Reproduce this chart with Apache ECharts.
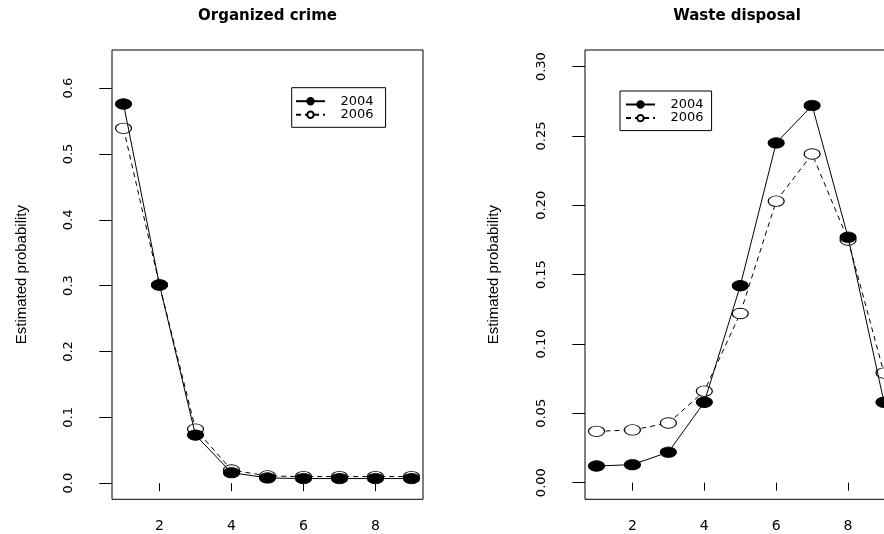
<!DOCTYPE html>
<html>
<head>
<meta charset="utf-8">
<script src="https://cdn.jsdelivr.net/npm/echarts@6/dist/echarts.min.js"></script>
<style>
html,body{margin:0;padding:0;background:#fff;}
#chart{width:884px;height:534px;}
</style>
</head>
<body>
<div id="chart"></div>
<script>
// ---- data ----
var positions = [1, 2, 3, 4, 5, 6, 7, 8, 9];
var years = ['2004', '2006'];
var panelTitles = ['Organized crime', 'Waste disposal'];
var crime2004 = [0.576, 0.301, 0.073, 0.016, 0.008, 0.007, 0.007, 0.007, 0.007];
var crime2006 = [0.539, 0.301, 0.082, 0.020, 0.011, 0.010, 0.010, 0.010, 0.010];
var waste2004 = [0.012, 0.013, 0.022, 0.058, 0.142, 0.245, 0.272, 0.177, 0.058];
var waste2006 = [0.037, 0.038, 0.043, 0.066, 0.122, 0.203, 0.237, 0.175, 0.079];
var xTicks = [2, 4, 6, 8];
var yTicksLeft = [0, 0.1, 0.2, 0.3, 0.4, 0.5, 0.6];
var yLabelsLeft = ['0.0', '0.1', '0.2', '0.3', '0.4', '0.5', '0.6'];
var yTicksRight = [0, 0.05, 0.10, 0.15, 0.20, 0.25, 0.30];
var yLabelsRight = ['0.00', '0.05', '0.10', '0.15', '0.20', '0.25', '0.30'];
var yName = 'Estimated probability';

function pairs(vals) { return positions.map(function (p, i) { return [p, vals[i]]; }); }
function labelFrom(ticks, labels) {
  return function (v) {
    for (var i = 0; i < ticks.length; i++) if (Math.abs(ticks[i] - v) < 1e-9) return labels[i];
    return '';
  };
}

var ellipse = 'path://M0,5A5,5,0,1,1,10,5A5,5,0,1,1,0,5Z';
var tickFont = 'DejaVu Sans';

function xAxis(gi) {
  return {
    type: 'value', gridIndex: gi, min: 0.68, max: 9.32,
    axisLine: { show: false },
    splitLine: { show: false },
    axisTick: { show: true, inside: false, length: 8, lineStyle: { color: '#000', width: 1 }, customValues: xTicks },
    axisLabel: { show: true, margin: 20, color: '#000', fontFamily: tickFont, fontSize: 14, customValues: xTicks,
      formatter: function (v) { return String(v); } }
  };
}
function yAxis(gi, min, max, ticks, labels, gap) {
  return {
    type: 'value', gridIndex: gi, min: min, max: max,
    axisLine: { show: false },
    splitLine: { show: false },
    axisTick: { show: true, inside: false, length: 12.7, lineStyle: { color: '#000', width: 1 }, customValues: ticks },
    axisLabel: { show: true, rotate: 90, margin: 37, color: '#000', fontFamily: tickFont, fontSize: 13, customValues: ticks,
      formatter: labelFrom(ticks, labels) },
    name: yName, nameLocation: 'middle', nameRotate: 90, nameGap: gap,
    nameTextStyle: { color: '#000', fontFamily: 'Liberation Sans', fontSize: 15 }
  };
}
function series(name, gi, vals, filled) {
  return {
    name: name, type: 'line', xAxisIndex: gi, yAxisIndex: gi,
    data: pairs(vals),
    symbol: ellipse, symbolSize: [16, 10.5], symbolKeepAspect: false,
    showAllSymbol: true,
    z: filled ? 3 : 2,
    lineStyle: { color: '#000', width: 1, type: filled ? 'solid' : [5, 4] },
    itemStyle: { color: filled ? '#000' : '#fff', borderColor: '#000', borderWidth: 1 },
    emphasis: { disabled: true },
    clip: false
  };
}
function legend(left, top, padding) {
  return {
    data: years, orient: 'vertical', left: left, top: top,
    itemWidth: 29, itemHeight: 8, itemGap: 0.6,
    padding: padding, borderColor: '#000', borderWidth: 1, borderRadius: 0,
    backgroundColor: '#fff',
    selectedMode: false,
    textStyle: { color: '#000', fontFamily: tickFont, fontSize: 13, lineHeight: 12, padding: [0, 0, 0, 10.5] }
  };
}

var option = {
  animation: false,
  backgroundColor: '#fff',
  title: [
    { text: panelTitles[0], left: 267.5, top: 9, textAlign: 'center', padding: 0,
      textStyle: { color: '#000', fontFamily: tickFont, fontWeight: 'bold', fontSize: 15 } },
    { text: panelTitles[1], left: 737, top: 9, textAlign: 'center', padding: 0,
      textStyle: { color: '#000', fontFamily: tickFont, fontWeight: 'bold', fontSize: 15 } }
  ],
  legend: [
    legend(291.7, 87.7, [7, 12, 6, 3.3]),
    legend(620, 91, [7, 8, 6, 5])
  ],
  grid: [
    { left: 112, width: 311, top: 50, height: 449.3, outerBoundsMode: 'none', containLabel: false,
      show: true, borderColor: '#000', borderWidth: 1, backgroundColor: 'transparent' },
    { left: 585, width: 310.5, top: 50, height: 449.3, outerBoundsMode: 'none', containLabel: false,
      show: true, borderColor: '#000', borderWidth: 1, backgroundColor: 'transparent' }
  ],
  xAxis: [xAxis(0), xAxis(1)],
  yAxis: [
    yAxis(0, -0.0245, 0.658, yTicksLeft, yLabelsLeft, 83),
    yAxis(1, -0.012, 0.312, yTicksRight, yLabelsRight, 84)
  ],
  series: [
    series(years[1], 0, crime2006, false),
    series(years[0], 0, crime2004, true),
    series(years[1], 1, waste2006, false),
    series(years[0], 1, waste2004, true)
  ]
};

var chart = echarts.init(document.getElementById('chart'), null, { renderer: 'canvas' });
chart.setOption(option);
</script>
</body>
</html>
